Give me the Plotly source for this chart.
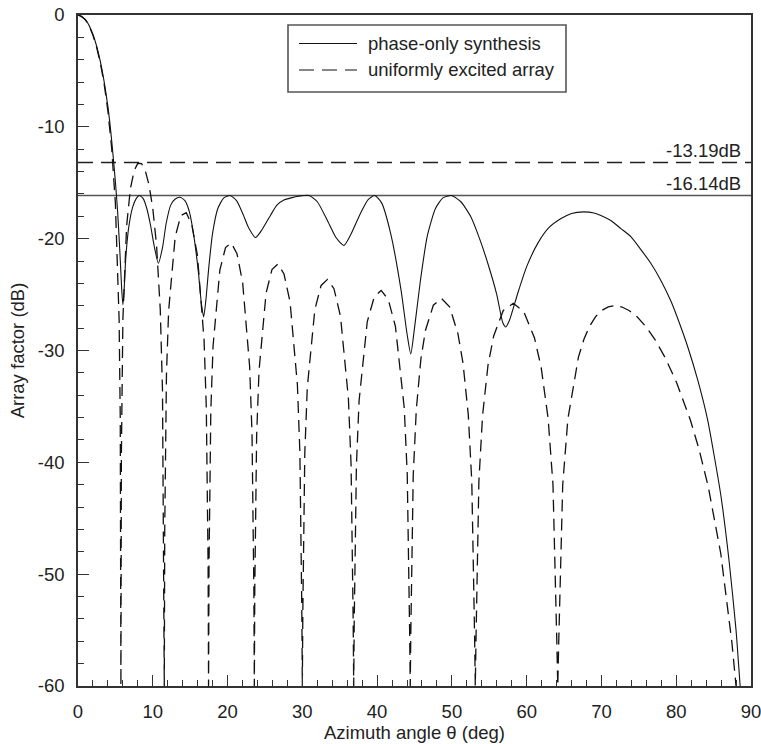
import plotly.graph_objs as go
import plotly.io as pio

pio.templates.default = "simple_white"

# uniformly excited array (deg, dB)
uniform_theta = [
    0, 0.5, 1.0, 1.5, 2.0, 2.5, 3.0, 3.5, 4.0, 4.5, 5.0, 5.5, 5.65, 5.74,
    5.8, 6.0, 6.5, 7.0, 7.5, 8.0, 8.5, 9.0, 9.5, 10.0, 10.5, 11.0, 11.3, 11.5, 11.54,
    11.60, 11.83, 12.12, 13.00, 13.75, 14.48, 15.22, 15.97, 16.86, 17.16, 17.40, 17.46,
    17.52, 17.76, 18.06, 18.97, 19.73, 20.49, 21.26, 22.02, 22.95, 23.27, 23.52, 23.58,
    23.64, 23.89, 24.21, 25.15, 25.94, 26.74, 27.55, 28.36, 29.34, 29.67, 29.93, 30.00,
    30.07, 30.33, 30.66, 31.67, 32.51, 33.37, 34.23, 35.10, 36.16, 36.52, 36.80, 36.87,
    36.94, 37.23, 37.59, 38.68, 39.61, 40.54, 41.49, 42.45, 43.63, 44.03, 44.35, 44.43,
    44.51, 44.83, 45.24, 45.85, 46.47, 47.52, 48.59, 49.69, 50.80, 51.49, 52.19, 52.66, 53.04, 53.13,
    53.23, 53.61, 54.10, 54.83, 55.59, 56.87, 58.21, 59.60, 61.04, 61.94, 62.87, 63.52, 64.03, 64.16,
    64.29, 64.82, 65.51, 66.93, 67.67, 68.43, 69.22, 70.05, 70.91, 71.81, 72.75, 73.74, 74.80,
    75.93, 77.16, 78.52, 80.06, 81.89, 82.98, 84.27, 85.95, 87.44, 88.00,
]
uniform_db = [
    0, -0.11, -0.44, -1.00, -1.81, -2.91, -4.34, -6.18, -8.59, -11.88, -16.84, -27.3, -36.0, -60,
    -39.5, -27.26, -18.87, -15.56, -13.93, -13.26, -13.28, -13.92, -15.21, -17.29, -20.56, -26.32, -33.6, -49.9, -60,
    -45.92, -32.14, -26.43, -19.81, -17.94, -17.68, -18.77, -21.47, -29.09, -35.14, -49.19, -60,
    -49.25, -35.40, -29.62, -22.81, -20.79, -20.38, -21.34, -23.93, -31.41, -37.42, -51.45, -60,
    -51.48, -37.61, -31.79, -24.87, -22.76, -22.27, -23.16, -25.66, -33.07, -39.05, -53.06, -60,
    -53.08, -39.19, -33.34, -26.35, -24.18, -23.64, -24.47, -26.93, -34.28, -40.24, -54.23, -60,
    -54.25, -40.34, -34.48, -27.43, -25.22, -24.63, -25.43, -27.85, -35.15, -41.09, -55.07, -60,
    -55.09, -41.16, -35.29, -30.78, -28.19, -25.95, -25.33, -26.09, -28.47, -31.14, -35.74, -41.67, -55.64, -60,
    -55.65, -41.72, -35.83, -31.30, -28.70, -26.42, -25.78, -26.51, -28.86, -31.51, -36.09, -42.01, -55.97, -60,
    -56.0, -42.03, -36.13, -30.57, -28.97, -27.81, -26.97, -26.42, -26.10, -25.99, -26.11, -26.44, -27.00,
    -27.85, -29.02, -30.64, -32.88, -36.22, -38.66, -42.13, -48.13, -56.08, -60,
]

# phase-only synthesis (deg, dB)
phase_theta = [
    0, 1, 2, 3, 4, 4.5, 5.0, 5.3, 5.6, 5.85, 6.0, 6.15, 6.4, 6.8, 7.3, 7.8, 8.2, 8.7, 9.2, 9.7,
    10.2, 10.75, 11.3, 11.8, 12.4, 13.0, 13.66, 14.3, 14.9, 15.5, 16.1, 16.5, 16.8, 17.1, 17.5,
    18.0, 18.7, 19.5, 20.35, 21.2, 22.0, 22.8, 23.74, 24.6, 25.75, 26.6, 27.54, 28.5, 29.5, 30.9,
    32.0, 33.3, 34.5, 35.57, 36.5, 37.8, 38.8, 39.68, 40.6, 41.8, 43.2, 44.0, 44.5, 45.0, 45.8,
    46.7, 47.8, 48.8, 49.95, 51.2, 52.5, 53.7, 54.8, 56.0, 56.8, 57.2, 57.7, 58.8, 60.0, 61.5,
    63.0, 64.6, 66.0, 67.6, 69.0, 70.0, 71.3, 72.6, 73.9, 75.3, 76.6, 78.0, 79.3, 80.4, 81.6,
    82.9, 84.2, 85.1, 86.0, 87.1, 88.0, 88.3, 88.55,
]
phase_db = [
    0, -0.42, -1.75, -4.2, -8.2, -11.2, -14.9, -17.6, -21.2, -24.6, -25.9, -24.8, -21.6, -18.9, -17.2, -16.4, -16.14, -16.4, -17.3, -18.8,
    -20.7, -22.2, -20.8, -18.6, -17.0, -16.45, -16.3, -16.6, -17.6, -19.8, -23.0, -25.8, -27.0, -25.5, -22.5,
    -19.5, -17.3, -16.35, -16.14, -16.6, -17.7, -19.0, -19.9, -19.2, -17.9, -17.0, -16.55, -16.35, -16.2, -16.14,
    -16.7, -18.3, -19.9, -20.6, -19.6, -17.7, -16.5, -16.14, -16.8, -19.5, -24.6, -28.5, -30.3, -28.0, -23.7,
    -19.8, -17.3, -16.35, -16.14, -16.7, -18.0, -20.0, -22.2, -25.0, -27.5, -27.9, -27.3, -24.9, -22.5, -20.4,
    -19.0, -18.2, -17.75, -17.6, -17.7, -17.95, -18.4, -19.1, -19.8, -21.0, -22.2, -23.8, -25.6, -27.5, -29.8,
    -32.7, -36.2, -39.5, -43.1, -49.0, -55.0, -57.7, -60,
]

# peak sidelobe levels marked on the chart
sll_uniform = -13.19
sll_phase = -16.14

x_ticks = [0, 10, 20, 30, 40, 50, 60, 70, 80, 90]
y_ticks = [-60, -50, -40, -30, -20, -10, 0]
y_tick_labels = ["-60", "-50", "-40", "-30", "-20", "-10", "0"]

legend_names = ["phase-only synthesis", "uniformly excited array"]

W, H = 761, 744
M = dict(l=78, r=10, t=15, b=58)
FONT = "Liberation Sans, Arial, Helvetica, sans-serif"
INK = "#222222"
DASH_CURVE = "12px,7px"
DASH_FLAT = "15px,8px"


def px_x(px):
    return (px - M["l"]) / (W - M["l"] - M["r"])


def px_y(py):
    return (H - M["b"] - py) / (H - M["t"] - M["b"])


fig = go.Figure()

fig.add_trace(go.Scatter(
    x=uniform_theta, y=uniform_db, mode="lines", name=legend_names[1],
    line=dict(color="#111111", width=1.3, dash=DASH_CURVE), showlegend=False
))
fig.add_trace(go.Scatter(
    x=phase_theta, y=phase_db, mode="lines", name=legend_names[0],
    line=dict(color="#111111", width=1.1, shape="spline", smoothing=0.6), showlegend=False
))

# sidelobe level lines and their labels
fig.add_hline(y=sll_uniform, opacity=1, line=dict(color="#222222", width=1.4, dash=DASH_FLAT), layer="below")
fig.add_hline(y=sll_phase, opacity=1, line=dict(color="#555555", width=1.6), layer="below")
for lvl in (sll_uniform, sll_phase):
    fig.add_annotation(
        x=x_ticks[-1], y=lvl, xref="x", yref="y", text=f"{lvl:.2f}dB",
        xanchor="right", yanchor="bottom", xshift=-8, yshift=0, showarrow=False,
        font=dict(family=FONT, size=18.5, color=INK)
    )

# hand-drawn legend box (long line samples like the original)
fig.add_shape(type="rect", xref="paper", yref="paper", opacity=1,
              x0=px_x(288), x1=px_x(566), y0=px_y(92), y1=px_y(25),
              line=dict(color="#555555", width=1.6), fillcolor="white", layer="above")
for row_y, name, dash in [(43.5, legend_names[0], "solid"), (70, legend_names[1], DASH_FLAT)]:
    fig.add_shape(type="line", xref="paper", yref="paper", opacity=1,
                  x0=px_x(299), x1=px_x(357), y0=px_y(row_y), y1=px_y(row_y),
                  line=dict(color="#111111", width=1.2, dash=dash), layer="above")
    fig.add_annotation(x=px_x(366), y=px_y(row_y), xref="paper", yref="paper",
                       text=name, xanchor="left", yanchor="middle", showarrow=False,
                       font=dict(family=FONT, size=18.5, color=INK))

axis_common = dict(
    showgrid=False, zeroline=False, showline=True, mirror=True, automargin=False,
    linecolor="#333333", linewidth=1.5, ticklabeloverflow="allow",
    ticks="inside", ticklen=11, tickwidth=1.3, tickcolor="#333333",
    tickfont=dict(family=FONT, size=18.5, color=INK),
)

fig.update_layout(
    width=W, height=H, margin=M,
    paper_bgcolor="white", plot_bgcolor="white",
    font=dict(family=FONT, size=18.5, color=INK),
    showlegend=False,
    xaxis=dict(
        axis_common, range=[0, 90], tickvals=x_ticks, ticklabelstandoff=8,
        minor=dict(tick0=0, dtick=2, ticks="inside", ticklen=6, tickwidth=1, tickcolor="#333333"),
        title=dict(text="Azimuth angle θ (deg)", standoff=0, font=dict(family=FONT, size=18.5, color=INK)),
    ),
    yaxis=dict(
        axis_common, range=[-60, 0], tickvals=y_ticks, ticktext=y_tick_labels, ticklabelstandoff=8,
        minor=dict(tick0=0, dtick=2, ticks="inside", ticklen=6, tickwidth=1, tickcolor="#333333"),
        title=dict(text="Array factor (dB)", standoff=8, font=dict(family=FONT, size=18.5, color=INK)),
    ),
)

# the default 8px page margin would push the figure out of the window
fig.write_html("out.html", config={"displayModeBar": False},
               post_script="document.body.style.margin = '0';")
